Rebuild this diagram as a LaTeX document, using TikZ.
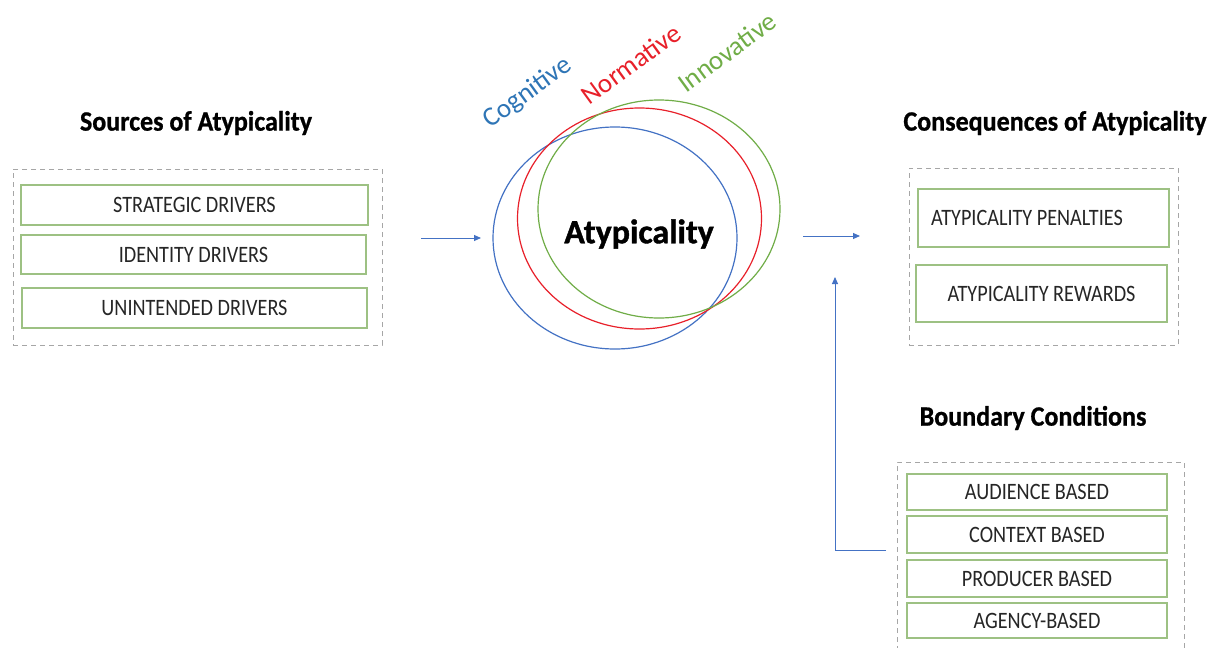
\documentclass[tikz,border=0pt]{standalone}
\usepackage{fontspec}
\setmainfont{Carlito}
\newfontfamily\itemfont[FakeStretch=0.86]{Carlito}
\newfontfamily\heavyfont[BoldFeatures={FakeBold=1.2}]{Carlito}
\newfontfamily\titlefont[FakeStretch=0.93,BoldFeatures={FakeBold=0.8}]{Carlito}
\usetikzlibrary{arrows.meta,shapes.geometric}
\definecolor{cblue}{HTML}{4472C4}
\definecolor{cred}{HTML}{E8202A}
\definecolor{cgreen}{HTML}{70AD47}
\definecolor{tblue}{HTML}{2E75B6}
\definecolor{boxgreen}{HTML}{9DC183}
\definecolor{dgray}{HTML}{A6A6A6}
\tikzset{
  title/.style={font=\titlefont\fontsize{28}{32}\selectfont\bfseries, inner sep=0pt},
  itemtext/.style={font=\itemfont\fontsize{23.5}{26}\selectfont, inner sep=0pt, text=black!85},
  item/.style={itemtext, draw=boxgreen, line width=1.3pt},
  group/.style={draw=dgray, dashed, dash pattern=on 5pt off 4pt, line width=0.9pt, inner sep=0pt},
  oval/.style={ellipse, draw, line width=1.2pt, inner sep=0pt},
  arr/.style={draw=cblue, line width=1pt, -{Triangle[length=7pt,width=6pt]}},
  lens/.style={font=\fontsize{27}{30}\selectfont, rotate=36, inner sep=0pt}
}
\begin{document}
\begin{tikzpicture}[x=1pt,y=-1pt]
\useasboundingbox (0,0) rectangle (1219,648);
\fill[white] (0,0) rectangle (1219,648);

% Sources
\node[title] (srctitle) at (196,123) {Sources of Atypicality};
\node[group, minimum width=369pt, minimum height=176pt] (srcbox) at (197.5,257) {};
\node[item, minimum width=347pt, minimum height=40pt] (s1) at (194.5,205) {STRATEGIC DRIVERS};
\node[item, minimum width=345pt, minimum height=39pt] (s2) at (193.5,254.5) {IDENTITY DRIVERS};
\node[item, minimum width=345pt, minimum height=40pt] (s3) at (194.5,308) {UNINTENDED DRIVERS};

% Ellipses
\node[oval, draw=cblue, minimum width=244pt, minimum height=222pt] (cog) at (615,238) {};
\node[oval, draw=cred, minimum width=244pt, minimum height=221pt] (nor) at (639.5,218.5) {};
\node[oval, draw=cgreen, minimum width=242pt, minimum height=218pt] (inn) at (659,209) {};
\node[font=\heavyfont\fontsize{34}{38}\selectfont\bfseries, inner sep=0pt] (aty) at (639,234) {Atypicality};

\node[lens, text=tblue] (lcog) at (528,93) {Cognitive};
\node[lens, text=cred] (lnor) at (631,64) {Normative};
\node[lens, text=cgreen] (linn) at (727,52) {Innovative};

% Arrows
\coordinate (a1s) at (421,238);
\coordinate (a1e) at (481,238);
\draw[arr] (a1s) -- (a1e);
\coordinate (a2s) at (803,236);
\coordinate (a2e) at (860,236);
\draw[arr] (a2s) -- (a2e);

% Consequences
\node[title] (contitle) at (1055,123) {Consequences of Atypicality};
\node[group, minimum width=269pt, minimum height=177pt] (conbox) at (1043.5,256.5) {};
\node[item, minimum width=251pt, minimum height=58pt] (c1) at (1043.5,218) {};
\node[itemtext] (c1t) at (1027,218) {ATYPICALITY PENALTIES};
\node[item, minimum width=251pt, minimum height=57pt] (c2) at (1041.5,293.5) {ATYPICALITY REWARDS};

% Boundary
\node[title] (bndtitle) at (1033,418) {Boundary Conditions};
\draw[group] (897,660) -- (897,462) -- (1184,462) -- (1184,660);
\coordinate (bndwest) at (886,550);
\node[item, minimum width=260pt, minimum height=36pt] (b1) at (1037,492) {AUDIENCE BASED};
\node[item, minimum width=260pt, minimum height=37pt] (b2) at (1037,534.5) {CONTEXT BASED};
\node[item, minimum width=260pt, minimum height=37pt] (b3) at (1037,578.5) {PRODUCER BASED};
\node[item, minimum width=260pt, minimum height=35pt] (b4) at (1037,620.5) {AGENCY-BASED};

\coordinate (a3e) at (835,277);
\draw[arr] (bndwest) -| (a3e);
\end{tikzpicture}
\end{document}
